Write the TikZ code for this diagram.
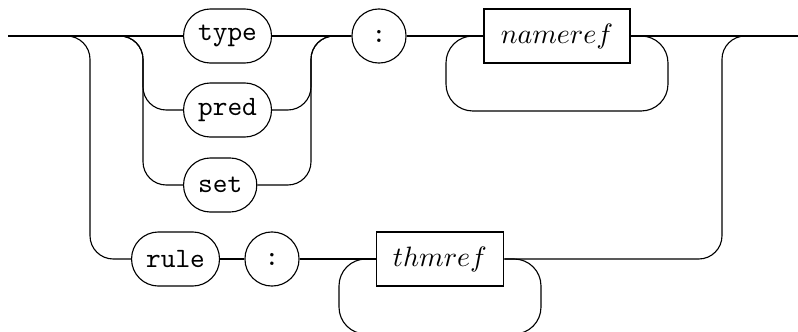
\documentclass[tikz,border=0pt]{standalone}
\usepackage{amsmath,amssymb}
\usepackage{xcolor}
\usepackage{tikz}
\usetikzlibrary{
  arrows.meta,
  positioning,
  calc
}

\begin{document}
\begin{tikzpicture}[
  x=0.357pt, y=-0.357pt,
  termnode/.style={draw, rounded corners=9.6pt, minimum height=19.3pt, minimum width=19.3pt, inner xsep=5.2pt, inner ysep=0pt, font=\ttfamily},
  nontermnode/.style={draw, minimum height=19.3pt, inner xsep=6pt, inner ysep=0pt},
  railbranch/.style={draw, rounded corners=8.3pt},
  railloop/.style={draw, rounded corners=9.6pt}
]
  \useasboundingbox (0,0) rectangle (798,332);

  % end points and junctions of the track
  \coordinate (start) at (8,36);
  \coordinate (finish) at (798,36);
  \coordinate (outerL) at (90,36);
  \coordinate (innerL) at (143,36);
  \coordinate (innerR) at (311,36);
  \coordinate (outerR) at (722,36);

  % upper alternatives
  \node[termnode, anchor=west] (type) at (183,36) {type};
  \node[termnode, anchor=west] (pred) at (183,110) {pred};
  \node[termnode, anchor=west] (set) at (183,185) {set};
  \node[termnode] (colA) at (379,36) {:};
  \node[nontermnode] (nameref) at (557,36) {$nameref$};

  % lower alternative
  \node[termnode, anchor=west] (rule) at (131,259) {rule};
  \node[termnode] (colB) at (272,259) {:};
  \node[nontermnode] (thmref) at (440,259) {$thmref$};

  % upper track
  \draw (start) -- (type.west);
  \draw[railbranch] (start) -| (innerL |- pred) -- (pred.west);
  \draw[railbranch] (start) -| (innerL |- set) -- (set.west);
  \draw (type.east) -- (colA.west);
  \draw[railbranch] (pred.east) -| (innerR) -- (colA.west);
  \draw[railbranch] (set.east) -| (innerR) -- (colA.west);
  \draw (colA.east) -- (nameref.west);
  \draw (nameref.east) -- (finish);
  \draw[railloop] (nameref.east) -| (668,111) -| (446,36) -- (nameref.west);

  % lower track
  \draw[railbranch] (start) -| (outerL |- rule) -- (rule.west);
  \draw (rule.east) -- (colB.west);
  \draw (colB.east) -- (thmref.west);
  \draw[railbranch] (thmref.east) -| (outerR) -- (finish);
  \draw[railloop] (thmref.east) -| (541,334) -| (339,259) -- (thmref.west);
\end{tikzpicture}
\end{document}
